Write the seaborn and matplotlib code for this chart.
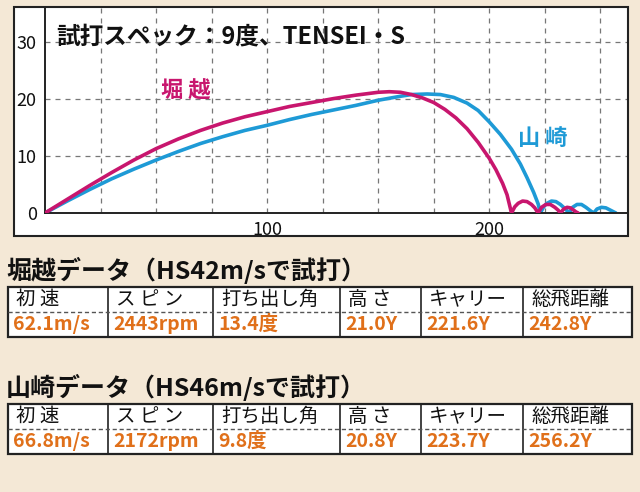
import matplotlib.pyplot as plt
import seaborn as sns
from matplotlib.patches import Rectangle

sns.set_theme(style="white")
plt.rcParams["font.family"] = ["Noto Sans CJK JP", "DejaVu Sans"]

# trajectory points (carry in yards, height in yards)
hori_x = [0, 10, 20, 30, 40, 50, 60, 70, 80, 90, 100, 110, 120, 130, 140, 150, 155, 160, 165, 170, 175, 180, 185,
          190, 195, 200, 203, 206, 208, 210,
          211.5, 213, 215, 217, 219, 220.5, 222, 223.5, 225.5, 227.5, 229.5, 231, 232, 233.5, 235, 236.5, 238, 239, 240]
hori_y = [0, 2.4, 4.8, 7.1, 9.3, 11.3, 13.0, 14.5, 15.8, 16.9, 17.8, 18.7, 19.4, 20.1, 20.7, 21.2, 21.3, 21.2, 20.8,
          20.2, 19.4, 18.2, 16.7, 14.8, 12.4, 9.6, 7.6, 5.2, 3.2, 0,
          1.1, 1.7, 2.1, 2.0, 1.5, 0.9, 0, 1.0, 1.5, 1.5, 1.0, 0.5, 0, 0.7, 1.0, 0.9, 0.5, 0.2, 0]
yama_x = [0, 10, 20, 30, 40, 50, 60, 70, 80, 90, 100, 110, 120, 130, 140, 150, 160, 165, 172, 178, 184, 190, 195,
          200, 205, 210, 214, 217, 220, 222, 223,
          224.5, 226, 228, 230, 232, 234, 236, 237.5, 239.5, 241.5, 243.5, 245.5, 247, 248.5, 250.5, 252.5, 254.5, 256, 257]
yama_y = [0, 2.1, 4.1, 6.0, 7.7, 9.3, 10.8, 12.2, 13.4, 14.5, 15.4, 16.4, 17.3, 18.1, 18.9, 19.8, 20.5, 20.8, 20.9,
          20.8, 20.3, 19.3, 18.0, 16.0, 13.8, 11.2, 8.6, 6.2, 3.6, 1.6, 0,
          1.1, 1.7, 2.1, 2.0, 1.5, 0.8, 0, 1.0, 1.5, 1.5, 1.0, 0.4, 0, 0.7, 1.0, 0.9, 0.5, 0.2, 0]

col_labels = ["初 速", "ス ピ ン", "打ち出し角", "高 さ", "キャリー", "総飛距離"]
hori_vals = ["62.1m/s", "2443rpm", "13.4度", "21.0Y", "221.6Y", "242.8Y"]
yama_vals = ["66.8m/s", "2172rpm", "9.8度", "20.8Y", "223.7Y", "256.2Y"]

magenta = "#c8166e"
blue = "#1e9ad6"
orange = "#e0701a"
bg = "#f4e8d6"

W, H = 640, 492
fig = plt.figure(figsize=(6.4, 4.92), dpi=100, facecolor=bg)

# overlay axes in pixel coordinates for the frame and the tables
over = fig.add_axes([0, 0, 1, 1])
over.set_xlim(0, W)
over.set_ylim(H, 0)
over.axis("off")
over.add_patch(Rectangle((14, 7), 614, 229, facecolor="white", edgecolor="#222222", lw=1.5))

ax = fig.add_axes([45 / W, 1 - 213 / H, (627 - 45) / W, (213 - 8) / H])
ax.set_facecolor("none")
ax.plot(hori_x, hori_y, color=magenta, lw=2.6, solid_capstyle="round", solid_joinstyle="round", zorder=3)
ax.plot(yama_x, yama_y, color=blue, lw=2.6, solid_capstyle="round", solid_joinstyle="round", zorder=2)
ax.set_xlim(0, 262)
ax.set_ylim(0, 36)
ax.set_xticks(range(25, 262, 25), minor=True)
ax.set_xticks([100, 200])
ax.set_yticks([0, 10, 20, 30])
ax.grid(True, which="both", axis="x", ls=(0, (4, 4)), color="#777777", lw=0.9)
ax.grid(True, which="major", axis="y", ls=(0, (4, 4)), color="#777777", lw=0.9)
ax.tick_params(labelsize=13, length=0, pad=6, colors="#111111")
for s in ["top", "right"]:
    ax.spines[s].set_visible(False)
for s in ["left", "bottom"]:
    ax.spines[s].set_color("#222222")
    ax.spines[s].set_linewidth(1.4)
ax.text(5, 31, "試打スペック：9度、TENSEI・S", fontsize=17, fontweight="bold", color="#111111", va="center")
ax.text(52, 21.5, "堀 越", fontsize=16, fontweight="bold", color=magenta, va="center")
ax.text(213, 13, "山 崎", fontsize=16, fontweight="bold", color=blue, va="center")

col_edges = [8, 108, 213, 340, 421, 523, 632]


def draw_table(title, title_y, top, vals):
    over.text(6, title_y, title, fontsize=18, fontweight="bold", color="#111111", va="center")
    row_h = 25
    over.add_patch(Rectangle((col_edges[0], top), col_edges[-1] - col_edges[0], 2 * row_h,
                             facecolor="white", edgecolor="#222222", lw=1.6))
    for x in col_edges[1:-1]:
        over.plot([x, x], [top, top + 2 * row_h], color="#222222", lw=1.2)
    over.plot([col_edges[0], col_edges[-1]], [top + row_h, top + row_h], color="#555555", lw=1,
              ls=(0, (3, 2)))
    for i, (lab, val) in enumerate(zip(col_labels, vals)):
        x0 = col_edges[i] + 8
        over.text(x0, top + row_h / 2, lab, fontsize=14, color="#111111", va="center")
        over.text(x0 - 3, top + row_h * 1.5, val, fontsize=14, fontweight="bold", color=orange, va="center")


draw_table("堀越データ（HS42m/sで試打）", 270, 287, hori_vals)
draw_table("山崎データ（HS46m/sで試打）", 387, 404, yama_vals)

fig.savefig("out.png", dpi=100, facecolor=bg)
